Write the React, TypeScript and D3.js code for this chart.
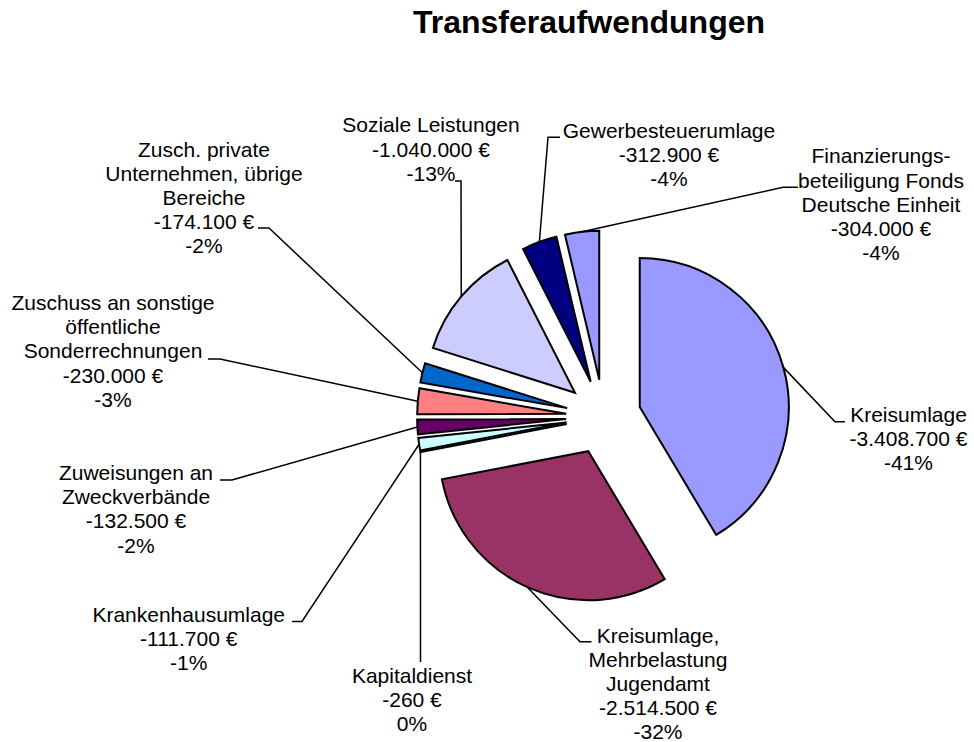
import React from "react";
import * as d3 from "d3";

// ---------- data ----------
const categories: string[] = [
  "Kreisumlage",
  "Kreisumlage,\nMehrbelastung\nJugendamt",
  "Kapitaldienst",
  "Krankenhausumlage",
  "Zuweisungen an\nZweckverbände",
  "Zuschuss an sonstige\nöffentliche\nSonderrechnungen",
  "Zusch. private\nUnternehmen, übrige\nBereiche",
  "Soziale Leistungen",
  "Gewerbesteuerumlage",
  "Finanzierungs-\nbeteiligung Fonds\nDeutsche Einheit",
];
const values: number[] = [
  -3408700, -2514500, -260, -111700, -132500, -230000, -174100, -1040000, -312900, -304000,
];
const percentLabels: string[] = ["-41%", "-32%", "0%", "-1%", "-2%", "-3%", "-2%", "-13%", "-4%", "-4%"];
const colors: string[] = [
  "#9999FF", "#993366", "#FFFFCC", "#CCFFFF", "#660066",
  "#FF8080", "#0066CC", "#CCCCFF", "#000080", "#9999FF",
];
const title = "Transferaufwendungen";

// ---------- layout (label positions) ----------
// cx: label centre, y0: first baseline, leader: points from label side towards slice
const labelLayout = [
  { cx: 908.5, y0: 421.7, leader: [[845, 421.7], [835, 421.7]] },
  { cx: 658, y0: 642.5, leader: [[591.5, 641.7], [580, 641.7]] },
  { cx: 412, y0: 682.7, leader: [[420.5, 662]] },
  { cx: 188.7, y0: 622, leader: [[292, 621.5], [302, 621.5]] },
  { cx: 136, y0: 480, leader: [[220, 480], [232, 480]] },
  { cx: 113, y0: 310, leader: [[208, 359], [220, 359]] },
  { cx: 204, y0: 156.5, leader: [[258, 228], [269, 228]] },
  { cx: 431, y0: 132.3, leader: [[455, 181], [461, 181]] },
  { cx: 669, y0: 137.5, leader: [[560, 137.3], [548, 137.3]] },
  { cx: 881, y0: 163.3, leader: [[798, 187.3], [783, 187.3]] },
];

const W = 974;
const H = 742;
const CX = 603.6;
const CY = 417;
const R = 149;
const EXPLODE = 37.5;
const LINE_H = 24.2;
const FONT = "Arial, 'Liberation Sans', Helvetica, sans-serif";

const de = d3.formatLocale({
  decimal: ",",
  thousands: ".",
  grouping: [3],
  currency: ["", " €"],
  minus: "-",
} as any);
const fmtEuro = de.format("$,.0f");

export default function App() {
  const pie = d3
    .pie<number>()
    .sort(null)
    .value((d) => Math.abs(d))
    .startAngle(0)
    .endAngle(2 * Math.PI);
  const arcs = pie(values);
  const arcGen = d3.arc<d3.PieArcDatum<number>>().innerRadius(0).outerRadius(R);

  const slices = arcs.map((a, i) => {
    const mid = (a.startAngle + a.endAngle) / 2;
    const ox = CX + EXPLODE * Math.sin(mid);
    const oy = CY - EXPLODE * Math.cos(mid);
    const mx = ox + R * Math.sin(mid);
    const my = oy - R * Math.cos(mid);
    return { a, i, ox, oy, mx, my };
  });

  const line = d3.line();

  return (
    <svg
      width={W}
      height={H}
      viewBox={`0 0 ${W} ${H}`}
      style={{ position: "absolute", left: 0, top: 0, background: "#fff" }}
    >
      <rect x={0} y={0} width={W} height={H} fill="#fff" />
      <text
        x={589}
        y={33.3}
        textAnchor="middle"
        fontFamily={FONT}
        fontWeight="bold"
        fontSize={32}
        fill="#000"
      >
        {title}
      </text>

      {slices.map((s) => (
        <path
          key={"s" + s.i}
          d={arcGen(s.a) || ""}
          transform={`translate(${s.ox},${s.oy})`}
          fill={colors[s.i]}
          stroke="#000"
          strokeWidth={2}
          strokeLinejoin="miter"
        />
      ))}

      {slices.map((s) => {
        const pts = [...(labelLayout[s.i].leader as [number, number][]), [s.mx, s.my] as [number, number]];
        return (
          <path
            key={"l" + s.i}
            d={line(pts) || ""}
            fill="none"
            stroke="#000"
            strokeWidth={1.5}
          />
        );
      })}

      {slices.map((s) => {
        const L = labelLayout[s.i];
        const lines = [...categories[s.i].split("\n"), fmtEuro(values[s.i]), percentLabels[s.i]];
        return (
          <text
            key={"t" + s.i}
            textAnchor="middle"
            fontFamily={FONT}
            fontSize={21}
            fill="#000"
          >
            {lines.map((t, k) => (
              <tspan key={k} x={L.cx} y={L.y0 + k * LINE_H}>
                {t}
              </tspan>
            ))}
          </text>
        );
      })}
    </svg>
  );
}
